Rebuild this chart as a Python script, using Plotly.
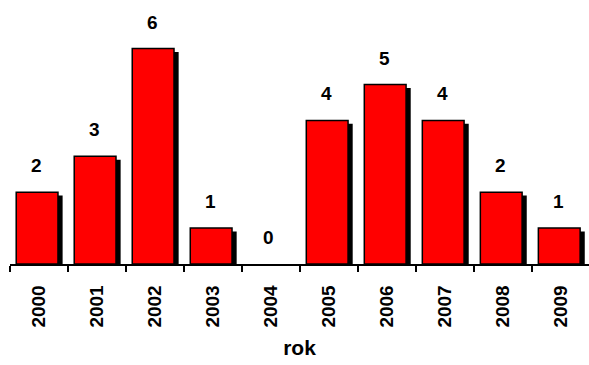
import plotly.graph_objects as go

# Data
years = ["2000", "2001", "2002", "2003", "2004", "2005", "2006", "2007", "2008", "2009"]
counts = [2, 3, 6, 1, 0, 4, 5, 4, 2, 1]
axis_title = "rok"

FONT = "Liberation Sans, Arial, sans-serif"
positions = list(range(len(years)))
boundaries = [p - 0.5 for p in positions] + [len(years) - 0.5]

# bar and drop shadow geometry (data units)
bar_w = 0.72
bar_off = -0.393
shadow_dx = 0.08
shadow_dy = 0.095

fig = go.Figure()

# black drop shadow behind each bar
fig.add_trace(go.Bar(
    x=positions,
    y=[c - shadow_dy if c > 0 else 0 for c in counts],
    width=bar_w,
    offset=bar_off + shadow_dx,
    marker=dict(color="black", line=dict(width=0)),
    hoverinfo="skip",
    showlegend=False,
))

# red bars with black outline
fig.add_trace(go.Bar(
    x=positions,
    y=counts,
    width=bar_w,
    offset=bar_off,
    marker=dict(color="#ff0000",
                line=dict(color="black", width=[1.5 if c > 0 else 0 for c in counts])),
    showlegend=False,
))

# value labels above the bars
for p, c in zip(positions, counts):
    fig.add_annotation(
        x=p, y=c, text=str(c), showarrow=False,
        xanchor="center", yanchor="bottom", yshift=14, xshift=-3,
        font=dict(family=FONT, size=19, color="black", weight="bold"),
    )

fig.update_layout(
    width=589, height=365,
    margin=dict(l=10, r=0, t=0, b=101),
    paper_bgcolor="white", plot_bgcolor="white",
    barmode="overlay",
    xaxis=dict(
        range=[-0.5, 9.48],
        tickvals=positions, ticktext=years, tickangle=-90,
        ticks="", ticklabelstandoff=12,
        tickfont=dict(family=FONT, size=19, color="black", weight="bold"),
        minor=dict(tickvals=boundaries, ticks="outside", ticklen=6,
                   tickwidth=1.7, tickcolor="black"),
        showline=True, linecolor="black", linewidth=1.5,
        showgrid=False, zeroline=False,
        title=dict(text=axis_title, standoff=14,
                   font=dict(family=FONT, size=21, color="black", weight="bold")),
    ),
    xaxis2=dict(
        range=[-0.5, 9.48], overlaying="x", anchor="y", side="bottom",
        tickvals=boundaries, ticks="inside", ticklen=6, tickwidth=1.7,
        tickcolor="black", showticklabels=False,
        showgrid=False, zeroline=False, showline=False,
    ),
    yaxis=dict(range=[0, 7.354], visible=False, fixedrange=True),
)

fig.write_html("out.html")
